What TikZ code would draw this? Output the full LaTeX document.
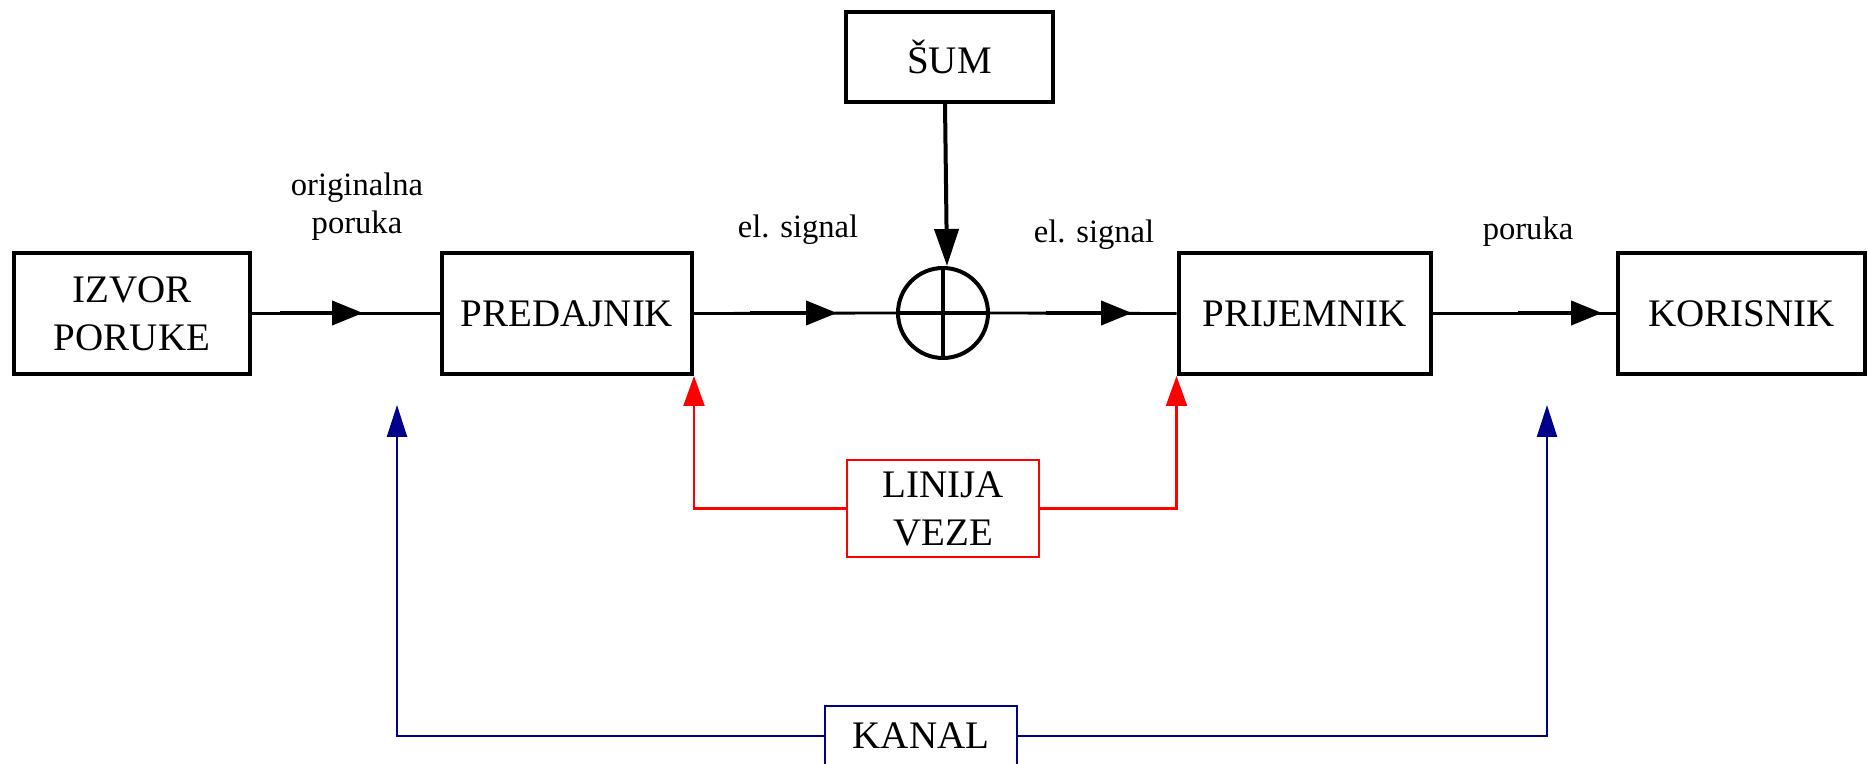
\documentclass[tikz,border=0pt]{standalone}
\usepackage{fontspec}
\setmainfont{Liberation Serif}
\usetikzlibrary{arrows.meta}
\definecolor{kanalblue}{RGB}{0,0,139}
\tikzset{
  blk/.style={draw=black, line width=2pt, inner sep=0pt, align=center,
    font=\fontsize{19.5}{24}\selectfont, minimum height=60.5pt},
  lbl/.style={inner sep=0pt, align=center, font=\fontsize{16.3}{19}\selectfont},
  sigline/.style={line width=1.4pt},
  sigarrow/.style={line width=2pt, -{Triangle[length=15.5pt,width=12pt]}},
  noisearrow/.style={line width=2pt, -{Triangle[length=18.5pt,width=12pt]}},
  redline/.style={draw=red, line width=1.1pt, -{Triangle[length=15pt,width=10.5pt]}},
  blueline/.style={draw=kanalblue, line width=1.2pt, -{Triangle[length=16pt,width=10pt]}},
}
\begin{document}
\begin{tikzpicture}[x=0.5pt,y=-0.5pt]
\useasboundingbox (0,0) rectangle (1868,764);
% blocks
\node[blk, minimum width=118pt] (izvor) at (132,313.5) {IZVOR\\PORUKE};
\node[blk, minimum width=125pt] (pred) at (567,313.5) {PREDAJNIK};
\node[blk, minimum width=126pt] (prij) at (1304.5,313.5) {PRIJEMNIK};
\node[blk, minimum width=123.5pt] (kor) at (1741.5,313.5) {KORISNIK};
\node[blk, minimum width=103.5pt, minimum height=45pt] (sumbox) at (949.5,57) {ŠUM};
\node[circle, draw, line width=2pt, minimum size=45pt, inner sep=0pt] (sum) at (943,313) {};
\draw[line width=2pt] (sum.north) -- (sum.south) (sum.west) -- (sum.east);
% signal path
\coordinate (s1) at (280,313); \coordinate (t1) at (363,313);
\coordinate (s2) at (750,313); \coordinate (t2) at (837,313);
\coordinate (s3) at (1046,313); \coordinate (t3) at (1132,313);
\coordinate (s4) at (1518,313); \coordinate (t4) at (1602,313);
\draw[sigline] (izvor.east) -- (pred.west);
\draw[sigline] (pred.east) -- (sum.west);
\draw[sigline] (sum.east) -- (prij.west);
\draw[sigline] (prij.east) -- (kor.west);
\draw[sigarrow] (s1) -- (t1);
\draw[sigarrow] (s2) -- (t2);
\draw[sigarrow] (s3) -- (t3);
\draw[sigarrow] (s4) -- (t4);
\draw[noisearrow] ([xshift=-2.25pt]sumbox.south) -- ([xshift=2pt]sum.north);
% labels
\node[lbl] (l1) at (357,207) {originalna\\poruka};
\node[lbl] (l2) at (798,230) {el. signal};
\node[lbl] (l3) at (1094,235) {el. signal};
\node[lbl] (l4) at (1528,232) {poruka};
% line
\node[draw=red, line width=1.1pt, minimum width=96pt, minimum height=48.5pt, inner sep=0pt,
  align=center, font=\fontsize{19.5}{24}\selectfont] (linija) at (943,508.5) {LINIJA\\VEZE};
\draw[redline] (linija.west) -| (pred.south east);
\draw[redline] (linija.east) -| (prij.south west);
% channel
\node[draw=kanalblue, line width=1.2pt, minimum width=96pt, minimum height=30pt, inner sep=0pt,
  font=\fontsize{19.5}{24}\selectfont] (kanal) at (921,736) {KANAL};
\coordinate (b1) at (397,405); \coordinate (b2) at (1547,405);
\draw[blueline] (kanal.west) -| (b1);
\draw[blueline] (kanal.east) -| (b2);
\end{tikzpicture}
\end{document}
